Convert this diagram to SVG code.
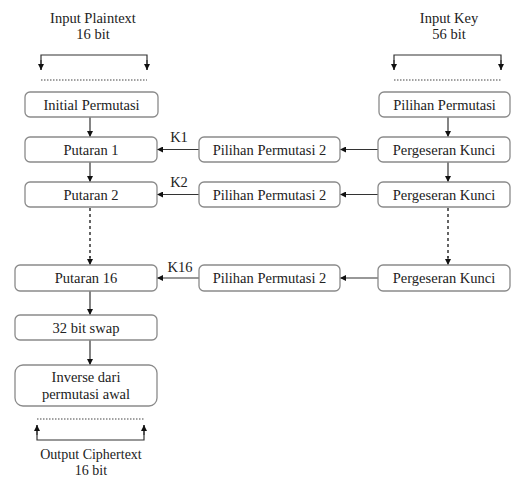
<svg xmlns="http://www.w3.org/2000/svg" width="514" height="478" viewBox="0 0 514 478">
<style>
.box{fill:#fff;stroke:#8a8a8a;stroke-width:1.3}
.t{font-family:'Liberation Serif','DejaVu Serif','Times New Roman',Times,serif;font-size:14.5px;fill:#222;text-anchor:middle}
.s{font-size:14px}
.ln{stroke:#333;stroke-width:1.2;fill:none}
.dot{stroke:#444;stroke-width:1.2;stroke-dasharray:1.5 1.5;fill:none}
.dash{stroke:#333;stroke-width:1.5;stroke-dasharray:3 3;fill:none}
</style>
<defs>
<marker id="ah" viewBox="0 0 10 10" refX="10" refY="5" markerWidth="6" markerHeight="6" orient="auto" markerUnits="userSpaceOnUse">
<path d="M0,0 L10,5 L0,10 z" fill="#111"/>
</marker>
</defs>
<rect width="514" height="478" fill="#fff"/>

<g id="labels">
<text class="t" x="93" y="23">Input Plaintext</text>
<text class="t" x="93" y="39">16 bit</text>
<text class="t" x="449" y="23">Input Key</text>
<text class="t" x="449" y="39">56 bit</text>
<text class="t s" x="91" y="459">Output Ciphertext</text>
<text class="t s" x="91" y="475">16 bit</text>
<text class="t" x="179" y="142">K1</text>
<text class="t" x="179" y="187">K2</text>
<text class="t" x="180" y="272">K16</text>
</g>

<g id="connectors">
<path class="ln" d="M41,70 V55 H147 V70" />
<path class="ln" d="M41,60 V70" marker-end="url(#ah)"/>
<path class="ln" d="M147,60 V70" marker-end="url(#ah)"/>
<path class="dot" d="M41,80 H147"/>
<path class="ln" d="M394,70 V55 H501 V70"/>
<path class="ln" d="M394,60 V70" marker-end="url(#ah)"/>
<path class="ln" d="M501,60 V70" marker-end="url(#ah)"/>
<path class="dot" d="M394,80 H501"/>
<path class="dot" d="M37,419 H144"/>
<path class="ln" d="M37,425 V440 H144 V425"/>
<path class="ln" d="M37,435 V425" marker-end="url(#ah)"/>
<path class="ln" d="M144,435 V425" marker-end="url(#ah)"/>

<path class="ln" d="M90,117 V137" marker-end="url(#ah)"/>
<path class="ln" d="M90,162 V182" marker-end="url(#ah)"/>
<path class="dash" d="M90,208 V258"/>
<path class="ln" d="M90,256 V265" marker-end="url(#ah)"/>
<path class="ln" d="M90,291 V315" marker-end="url(#ah)"/>
<path class="ln" d="M90,340 V365" marker-end="url(#ah)"/>

<path class="ln" d="M448,117 V137" marker-end="url(#ah)"/>
<path class="ln" d="M448,162 V182" marker-end="url(#ah)"/>
<path class="dash" d="M448,208 V258"/>
<path class="ln" d="M448,256 V265" marker-end="url(#ah)"/>

<path class="ln" d="M379,149.5 H340" marker-end="url(#ah)"/>
<path class="ln" d="M379,194.5 H340" marker-end="url(#ah)"/>
<path class="ln" d="M379,278 H340" marker-end="url(#ah)"/>
<path class="ln" d="M199,149.5 H157" marker-end="url(#ah)"/>
<path class="ln" d="M199,194.5 H157" marker-end="url(#ah)"/>
<path class="ln" d="M199,278 H157" marker-end="url(#ah)"/>
</g>

<g id="initial-permutasi"><rect class="box" x="25" y="92" width="133" height="25" rx="5"/><text class="t" x="91.5" y="109.5">Initial Permutasi</text></g>
<g id="putaran-1"><rect class="box" x="25" y="137" width="132" height="25" rx="5"/><text class="t" x="91" y="154.5">Putaran 1</text></g>
<g id="putaran-2"><rect class="box" x="25" y="182" width="132" height="25" rx="5"/><text class="t" x="91" y="199.5">Putaran 2</text></g>
<g id="putaran-16"><rect class="box" x="15" y="265" width="142" height="26" rx="5"/><text class="t" x="86" y="283">Putaran 16</text></g>
<g id="swap"><rect class="box" x="15" y="315" width="142" height="25" rx="5"/><text class="t" x="86" y="332.5">32 bit swap</text></g>
<g id="inverse"><rect class="box" x="15" y="365" width="142" height="41" rx="8"/><text class="t" x="86" y="382">Inverse dari</text><text class="t" x="86" y="399">permutasi awal</text></g>

<g id="pilihan-permutasi"><rect class="box" x="379" y="92" width="131" height="25" rx="5"/><text class="t" x="444.5" y="109.5">Pilihan Permutasi</text></g>
<g id="pergeseran-1"><rect class="box" x="378" y="137" width="132" height="25" rx="5"/><text class="t" x="444" y="154.5">Pergeseran Kunci</text></g>
<g id="pergeseran-2"><rect class="box" x="378" y="182" width="132" height="25" rx="5"/><text class="t" x="444" y="199.5">Pergeseran Kunci</text></g>
<g id="pergeseran-16"><rect class="box" x="378" y="265" width="132" height="26" rx="5"/><text class="t" x="444" y="283">Pergeseran Kunci</text></g>

<g id="pp2-1"><rect class="box" x="199" y="137" width="141" height="25" rx="5"/><text class="t" x="269.5" y="154.5">Pilihan Permutasi 2</text></g>
<g id="pp2-2"><rect class="box" x="199" y="182" width="141" height="25" rx="5"/><text class="t" x="269.5" y="199.5">Pilihan Permutasi 2</text></g>
<g id="pp2-16"><rect class="box" x="199" y="265" width="141" height="26" rx="5"/><text class="t" x="269.5" y="283">Pilihan Permutasi 2</text></g>
</svg>
